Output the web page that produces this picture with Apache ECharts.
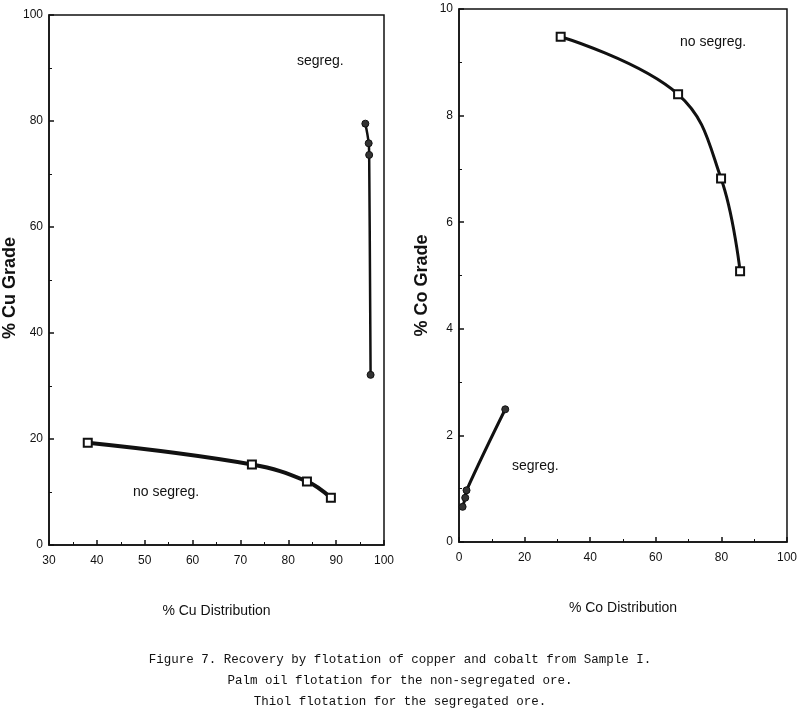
<!DOCTYPE html>
<html>
<head>
<meta charset="utf-8">
<script src="https://cdn.jsdelivr.net/npm/echarts@6/dist/echarts.min.js"></script>
<style>
html,body{margin:0;padding:0;background:#fff;}
#chart{width:800px;height:724px;}
</style>
</head>
<body>
<div id="chart"></div>
<script>
// ---- data ----
var cuNoSegX = [38.1, 72.4, 83.9, 88.9];
var cuNoSegY = [19.3, 15.2, 12.0, 8.9];
var cuSegX = [96.1, 96.8, 96.9, 97.2];
var cuSegY = [79.5, 75.8, 73.6, 32.1];
var coNoSegX = [31.0, 66.8, 79.9, 85.7];
var coNoSegY = [9.48, 8.40, 6.82, 5.08];
var coSegX = [1.1, 1.9, 2.3, 14.1];
var coSegY = [0.66, 0.83, 0.97, 2.49];

var cuXTitle = '% Cu Distribution', cuYTitle = '% Cu Grade';
var coXTitle = '% Co Distribution', coYTitle = '% Co Grade';
var captionLines = [
  'Figure 7. Recovery by flotation of copper and cobalt from Sample I.',
  'Palm oil flotation for the non-segregated ore.',
  'Thiol flotation for the segregated ore.'
];

function pairs(xs, ys) { return xs.map(function (x, i) { return [x, ys[i]]; }); }

var chart = echarts.init(document.getElementById('chart'));
var SANS = 'Liberation Sans, Arial, sans-serif';
var axisCommon = {
  axisLine: { show: true, lineStyle: { color: '#111', width: 1.5 } },
  axisTick: { show: true, inside: true, length: 5, lineStyle: { color: '#111', width: 1.5 } },
  minorTick: { show: true, splitNumber: 2, length: 3, lineStyle: { color: '#111', width: 1 } },
  splitLine: { show: false },
  axisLabel: { color: '#111', fontFamily: SANS, fontSize: 12 }
};
function xAxis(gi, min, max, interval, name) {
  return Object.assign({}, axisCommon, {
    type: 'value', gridIndex: gi, min: min, max: max, interval: interval,
    name: name, nameLocation: 'middle', nameGap: 59,
    nameTextStyle: { color: '#111', fontFamily: SANS, fontSize: 14 },
    axisLabel: Object.assign({}, axisCommon.axisLabel, { margin: 10 })
  });
}
function yAxis(gi, min, max, interval, name, gap, pad) {
  return Object.assign({}, axisCommon, {
    type: 'value', gridIndex: gi, min: min, max: max, interval: interval,
    name: name, nameLocation: 'middle', nameGap: gap, nameRotate: 90,
    nameTextStyle: { color: '#111', fontFamily: SANS, fontSize: 18, fontWeight: 'bold', padding: pad },
    axisLabel: Object.assign({}, axisCommon.axisLabel, { margin: 6 })
  });
}
function lineSeries(gi, xs, ys, w) {
  return { type: 'line', xAxisIndex: gi, yAxisIndex: gi, data: pairs(xs, ys), smooth: 0.4,
    showSymbol: false, lineStyle: { color: '#111', width: w }, z: 2, silent: true };
}
function markSeries(gi, xs, ys, sym, size, fill, bw) {
  return { type: 'scatter', xAxisIndex: gi, yAxisIndex: gi, data: pairs(xs, ys), symbol: sym,
    symbolSize: size, itemStyle: { color: fill, borderColor: '#111', borderWidth: bw, opacity: 1 }, z: 3, silent: true };
}

var graphics = [
  { type: 'text', left: 297, top: 54, style: { text: 'segreg.', font: '14px ' + SANS, fill: '#111' } },
  { type: 'text', left: 133, top: 485, style: { text: 'no segreg.', font: '14px ' + SANS, fill: '#111' } },
  { type: 'text', left: 680, top: 35, style: { text: 'no segreg.', font: '14px ' + SANS, fill: '#111' } },
  { type: 'text', left: 512, top: 459, style: { text: 'segreg.', font: '14px ' + SANS, fill: '#111' } }
];
captionLines.forEach(function (t, i) {
  graphics.push({ type: 'text', x: 400, y: 653 + i * 21,
    style: { text: t, font: '12.5px Liberation Mono, Courier New, monospace', fill: '#111', textAlign: 'center' } });
});

chart.setOption({
  backgroundColor: '#fff',
  animation: false,
  grid: [
    { left: 49, top: 15, width: 335, height: 530, show: true, borderColor: '#111', borderWidth: 1.5, backgroundColor: 'transparent' },
    { left: 459, top: 9, width: 331, height: 533, show: true, borderColor: '#111', borderWidth: 1.5, backgroundColor: 'transparent' }
  ],
  xAxis: [ xAxis(0, 30, 100, 10, cuXTitle), xAxis(1, 0, 100, 20, coXTitle) ],
  yAxis: [ yAxis(0, 0, 100, 20, cuYTitle, 30, [0, 16, 0, 0]), yAxis(1, 0, 10, 2, coYTitle, 28, [0, 20, 0, 0]) ],
  series: [
    lineSeries(0, cuNoSegX, cuNoSegY, 4),
    markSeries(0, cuNoSegX, cuNoSegY, 'rect', 8, '#fff', 2),
    lineSeries(0, cuSegX, cuSegY, 2.5),
    markSeries(0, cuSegX, cuSegY, 'circle', 7, '#333', 1),
    lineSeries(1, coNoSegX, coNoSegY, 3),
    markSeries(1, coNoSegX, coNoSegY, 'rect', 8, '#fff', 2),
    lineSeries(1, coSegX, coSegY, 3),
    markSeries(1, coSegX, coSegY, 'circle', 7, '#333', 1)
  ],
  graphic: graphics
});
</script>
</body>
</html>
